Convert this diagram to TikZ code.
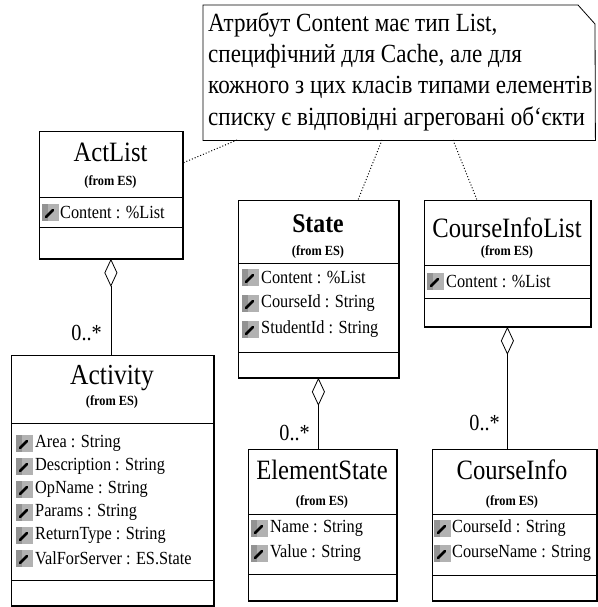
\documentclass[tikz,border=0pt]{standalone}
\usepackage{fontspec}
\setmainfont{Liberation Serif}[FakeStretch=0.88]
\usetikzlibrary{arrows.meta,calc}
\newcommand\attricon[2]{%
  \fill[gray!60] (#1-8.5,#2-8.5) rectangle (#1+8.5,#2+8.5);
  \fill[gray!85] (#1-8.5,#2-8.5) rectangle (#1-2,#2+8.5);
  \draw[line width=2.6pt,line cap=round] (#1-4,#2+5) -- (#1+3,#2-2);}
\begin{document}
\begin{tikzpicture}[x=1pt,y=-1pt,
  cls/.style={draw=black,line width=0.8pt,inner sep=0pt,anchor=north west},
  shade/.style={line width=1.5pt},
  ttl/.style={font=\fontsize{28}{28}\selectfont,inner sep=0pt},
  frm/.style={font=\bfseries\fontsize{14}{14}\selectfont,inner sep=0pt},
  attr/.style={font=\fontsize{18.5}{18.5}\selectfont,anchor=west,inner sep=0pt},
  sep/.style={line width=0.6pt},
  mult/.style={font=\fontsize{23}{23}\selectfont,anchor=east,inner sep=0pt},
  notetxt/.style={font=\fontsize{26.2}{31}\selectfont,anchor=base west,inner sep=0pt},
  notelink/.style={dotted,line width=1pt},
  aggr/.style={line width=0.7pt,-{Diamond[open,length=28pt,width=13pt,line width=0.8pt]}}]
\useasboundingbox[fill=white] (0,0) rectangle (597,607);

% ---- note ----
\node[inner sep=0pt,minimum width=392pt,minimum height=135pt,anchor=north west] (note) at (203,5) {};
\draw[line width=0.8pt] (note.north west) -- (578,5) -- (595,24) -- (note.south east) -- (note.south west) -- cycle;
\node[notetxt] (nl1) at (208,32) {Атрибут Content має тип List,};
\node[notetxt] (nl2) at (208,63) {специфічний для Cache, але для};
\node[notetxt] (nl3) at (208,94) {кожного з цих класів типами елементів};
\node[notetxt] (nl4) at (208,125) {списку є відповідні агреговані об`єкти};
\coordinate (nc1) at (237,140);
\coordinate (nc2) at (382,140);
\coordinate (nc3) at (453,140);

% ---- ActList ----
\node[cls,minimum width=143pt,minimum height=127pt] (actlist) at (39,131) {};
\draw[shade] (actlist.north east) -- (actlist.south east) -- (actlist.south west);
\node[ttl] (actlistname) at (110.5,152) {ActList};
\node[frm] (actlistfrom) at (110.5,182) {(from ES)};
\draw[sep] (39,197) -- (182,197);
\attricon{50}{212}
\node[attr] (actlista1) at (60,212) {Content : \%List};
\draw[sep] (39,227) -- (182,227);

% ---- State ----
\node[cls,minimum width=160pt,minimum height=177pt] (state) at (238,200) {};
\draw[shade] (state.north east) -- (state.south east) -- (state.south west);
\node[font=\bfseries\fontsize{27}{27}\selectfont,inner sep=0pt] (statename) at (318,224) {State};
\node[frm] (statefrom) at (318,252) {(from ES)};
\draw[sep] (238,263) -- (398,263);
\attricon{250}{277}
\node[attr] (statea1) at (261,277) {Content : \%List};
\attricon{250}{303}
\node[attr] (statea2) at (261,303) {CourseId : String};
\attricon{250}{329}
\node[attr] (statea3) at (261,329) {StudentId : String};
\draw[sep] (238,352) -- (398,352);

% ---- CourseInfoList ----
\node[cls,minimum width=166pt,minimum height=126pt] (cilist) at (424,200) {};
\draw[shade] (cilist.north east) -- (cilist.south east) -- (cilist.south west);
\node[ttl] (cilistname) at (507,228) {CourseInfoList};
\node[frm] (cilistfrom) at (507,252) {(from ES)};
\draw[sep] (424,265) -- (590,265);
\attricon{435}{281}
\node[attr] (cilista1) at (446,281) {Content : \%List};
\draw[sep] (424,298) -- (590,298);

% ---- Activity ----
\node[cls,minimum width=202pt,minimum height=250pt] (activity) at (11,355) {};
\draw[shade] (activity.north east) -- (activity.south east) -- (activity.south west);
\node[font=\fontsize{29}{29}\selectfont,inner sep=0pt] (activityname) at (112,378) {Activity};
\node[frm] (activityfrom) at (112,402) {(from ES)};
\draw[sep] (11,423) -- (213,423);
\attricon{24}{443}
\node[attr] (acta1) at (35,443) {Area : String};
\attricon{24}{466}
\node[attr] (acta2) at (35,466) {Description : String};
\attricon{24}{489}
\node[attr] (acta3) at (35,489) {OpName : String};
\attricon{24}{512}
\node[attr] (acta4) at (35,512) {Params : String};
\attricon{24}{535}
\node[attr] (acta5) at (35,535) {ReturnType : String};
\attricon{24}{558}
\node[attr] (acta6) at (35,558) {ValForServer : ES.State};
\draw[sep] (11,580) -- (213,580);

% ---- ElementState ----
\node[cls,minimum width=148pt,minimum height=151pt] (elstate) at (248,449) {};
\draw[shade] (elstate.north east) -- (elstate.south east) -- (elstate.south west);
\node[ttl] (elstatename) at (322,470) {ElementState};
\node[frm] (elstatefrom) at (322,502) {(from ES)};
\draw[sep] (248,514) -- (396,514);
\attricon{259}{528}
\node[attr] (ela1) at (270,528) {Name : String};
\attricon{259}{553}
\node[attr] (ela2) at (270,553) {Value : String};
\draw[sep] (248,574) -- (396,574);

% ---- CourseInfo ----
\node[cls,minimum width=164pt,minimum height=151pt] (cinfo) at (432,449) {};
\draw[shade] (cinfo.north east) -- (cinfo.south east) -- (cinfo.south west);
\node[ttl] (cinfoname) at (512,470) {CourseInfo};
\node[frm] (cinfofrom) at (512,502) {(from ES)};
\draw[sep] (432,514) -- (596,514);
\attricon{442}{528}
\node[attr] (cia1) at (452,528) {CourseId : String};
\attricon{442}{553}
\node[attr] (cia2) at (452,553) {CourseName : String};
\draw[sep] (432,575) -- (596,575);

% ---- note links ----
\draw[notelink] (nc1) -- (actlist.east |- 0,163);
\draw[notelink] (nc2) -- (358,200);
\draw[notelink] (nc3) -- (477,200);

% ---- aggregations ----
\draw[aggr] (actlist.south |- activity.north) -- (actlist.south);
\draw[aggr] (state.south |- elstate.north) -- (state.south);
\draw[aggr] (cilist.south |- cinfo.north) -- (cilist.south);
\node[mult] (m1) at (102,333) {0..*};
\node[mult] (m2) at (310,433) {0..*};
\node[mult] (m3) at (500,423) {0..*};
\end{tikzpicture}
\end{document}
